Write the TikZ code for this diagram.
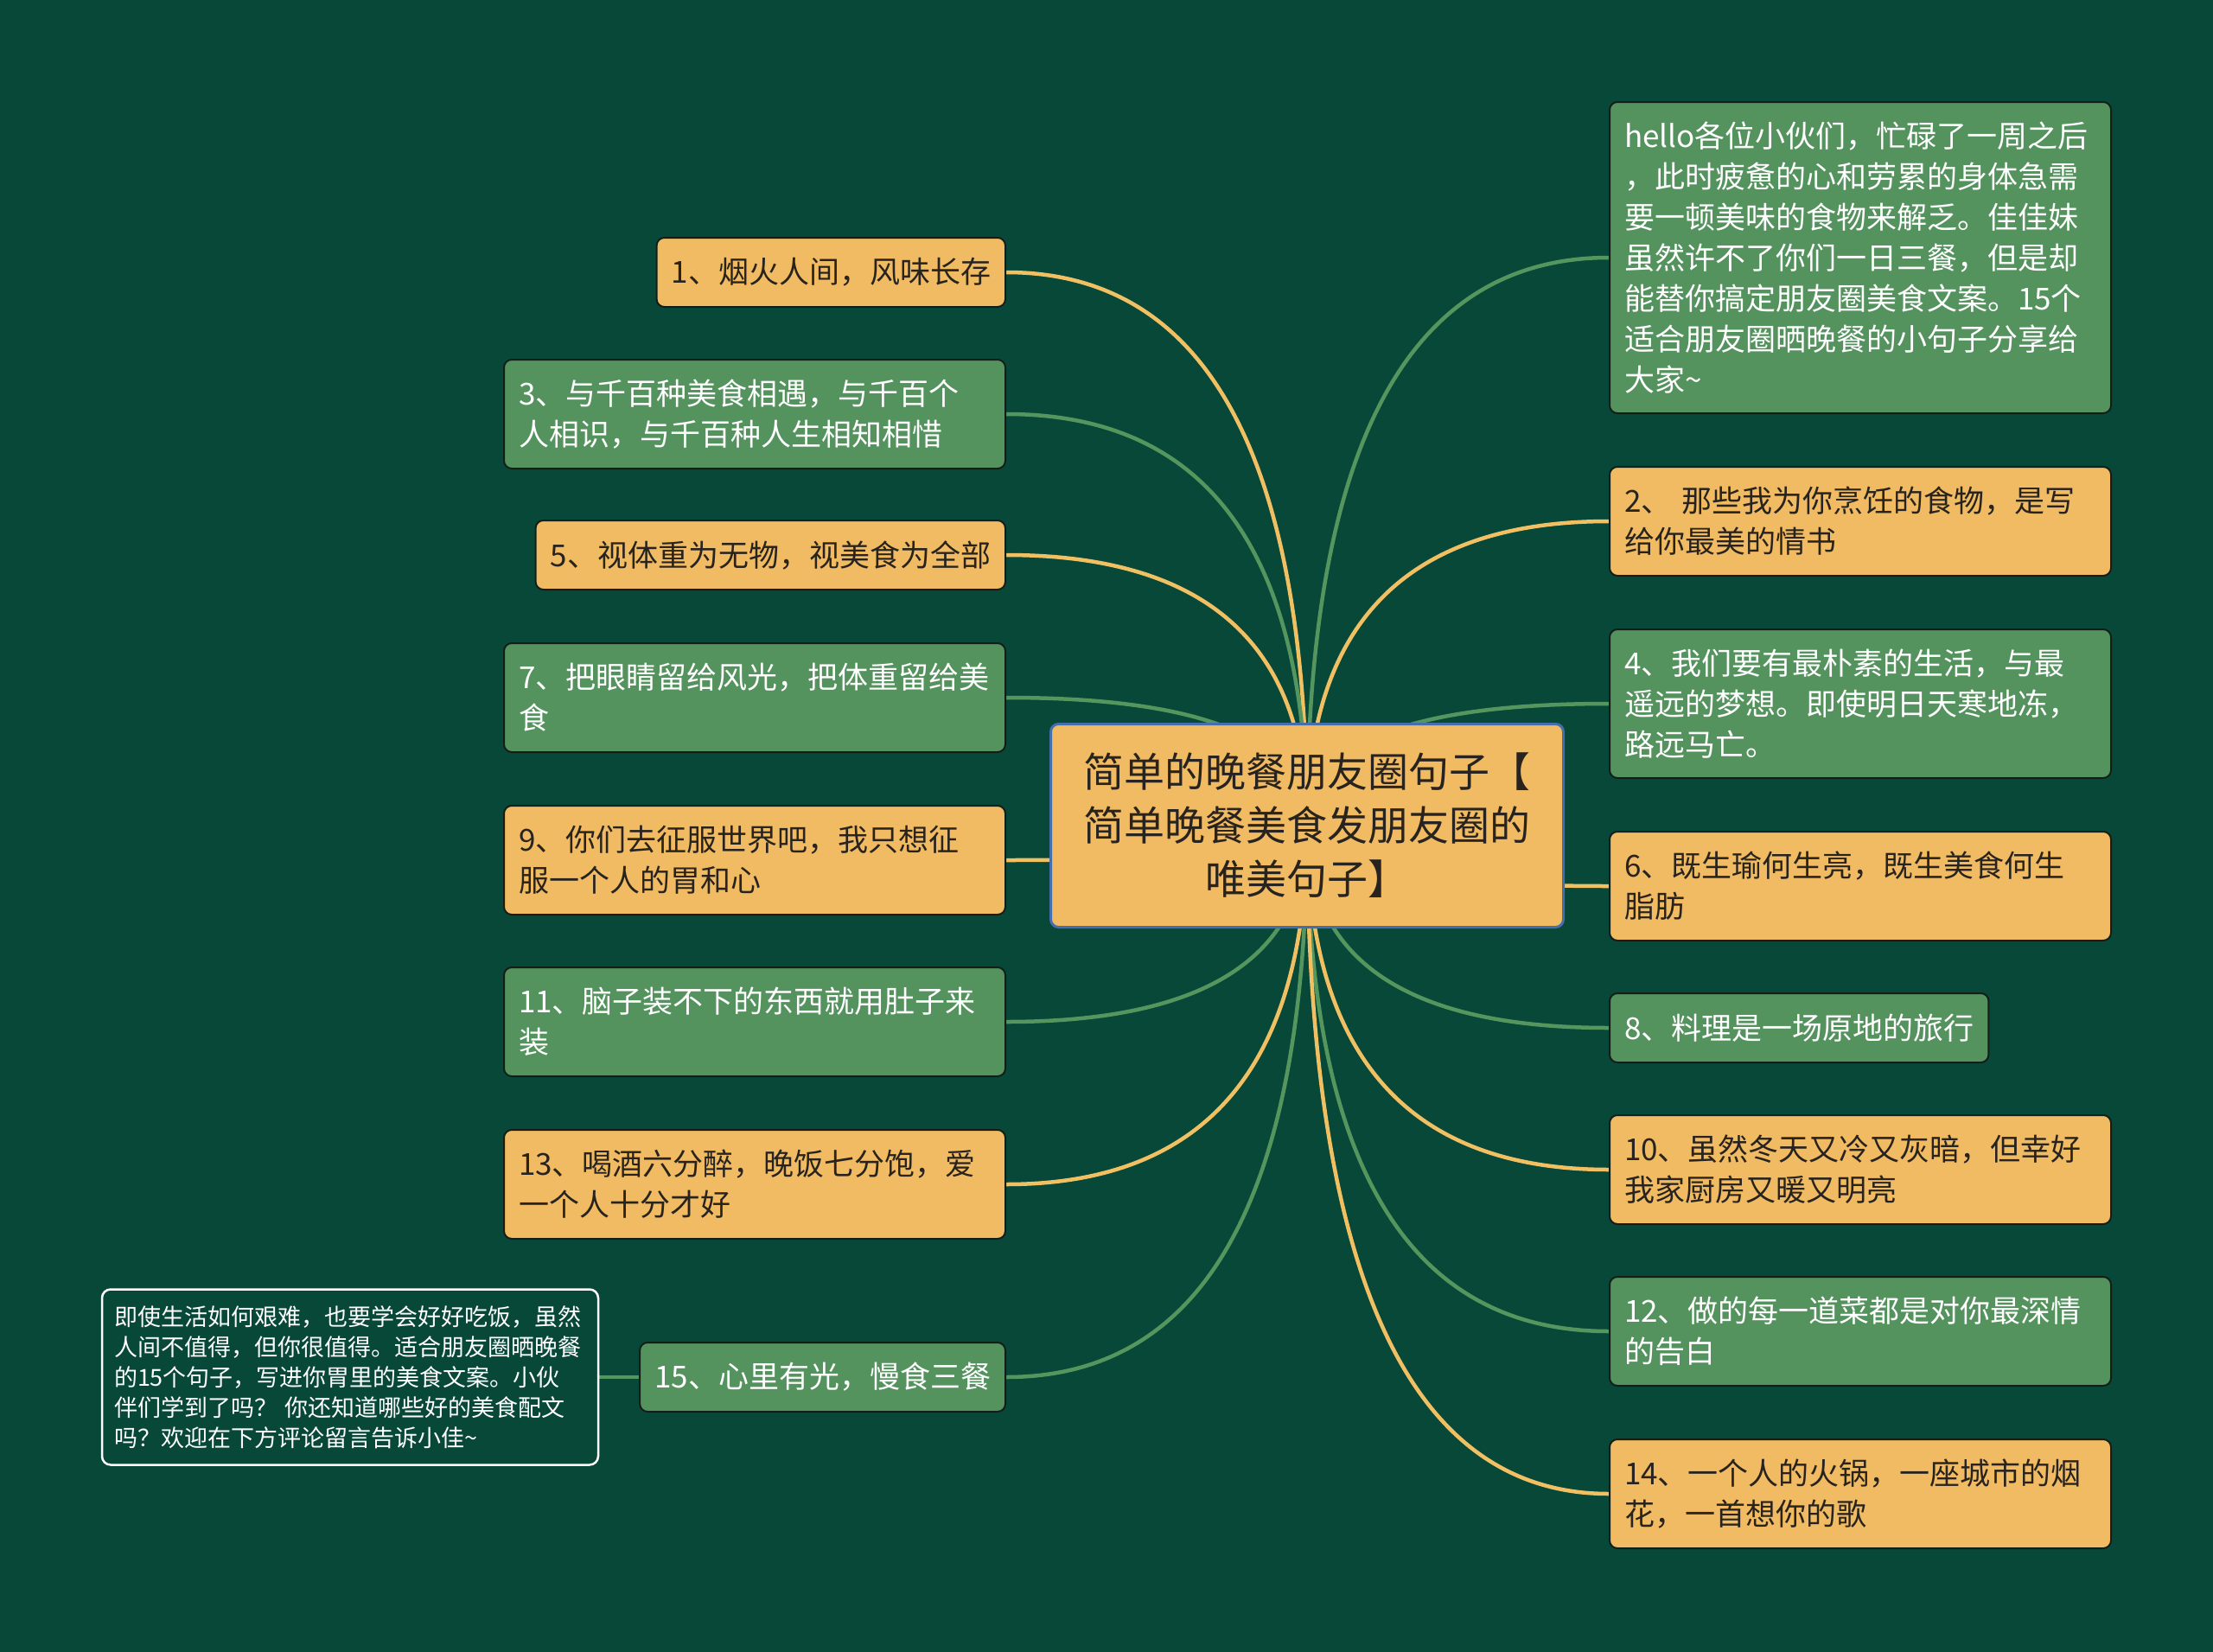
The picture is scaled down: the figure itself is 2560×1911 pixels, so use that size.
\documentclass[tikz,border=0pt]{standalone}
\usepackage{fontspec}
\newfontfamily\cjk{Noto Sans CJK SC}
\usetikzlibrary{calc}
\pgfdeclarelayer{bg}
\pgfsetlayers{bg,main}
\definecolor{bgc}{RGB}{8,72,57}
\definecolor{grf}{RGB}{84,146,94}
\definecolor{orf}{RGB}{240,187,98}
\definecolor{grl}{RGB}{84,150,94}
\definecolor{orl}{RGB}{240,192,98}
\definecolor{dtext}{RGB}{40,35,30}
\definecolor{nborder}{RGB}{20,30,25}
\definecolor{cblue}{RGB}{70,110,175}
\tikzset{
  basebox/.style={rounded corners=9pt, draw=nborder, line width=2pt,
    font=\cjk\fontsize{35pt}{47pt}\selectfont, align=left,
    inner xsep=17pt, inner ysep=0pt},
  obox/.style={basebox, fill=orf, text=dtext},
  gbox/.style={basebox, fill=grf, text=white},
  wide/.style={text width=546pt},
  conO/.style={draw=orl, line width=4.5pt},
  conG/.style={draw=grl, line width=4.5pt},
}
\newcommand\linkto[3]{%
  \draw[#3] (c.center) .. controls ($(c.center)!0.667!(c.center |- #1.#2)$) and ($(#1.#2)!0.667!(c.center |- #1.#2)$) .. (#1.#2);}
\begin{document}
\begin{tikzpicture}[x=1pt,y=-1pt]
\begin{pgfonlayer}{bg}
\fill[bgc] (0,0) rectangle (2560,1911);
\end{pgfonlayer}
\useasboundingbox (0,0) rectangle (2560,1911);

% center
\node[rounded corners=9pt, draw=cblue, line width=3pt, fill=orf, text=dtext,
  minimum width=593pt, minimum height=235pt, align=center,
  font=\cjk\fontsize{47pt}{62pt}\selectfont] (c) at (1512,955)
  {简单的晚餐朋友圈句子【\\简单晚餐美食发朋友圈的\\唯美句子】};

% left
\node[obox, anchor=east, minimum height=80pt] (n1) at (1164,315) {1、烟火人间，风味长存};
\node[gbox, wide, anchor=east, minimum height=126pt] (n3) at (1164,479) {3、与千百种美食相遇，与千百个\\人相识，与千百种人生相知相惜};
\node[obox, anchor=east, minimum height=80pt] (n5) at (1164,642) {5、视体重为无物，视美食为全部};
\node[gbox, wide, anchor=east, minimum height=126pt] (n7) at (1164,807) {7、把眼睛留给风光，把体重留给美\\食};
\node[obox, wide, anchor=east, minimum height=126pt] (n9) at (1164,995) {9、你们去征服世界吧，我只想征\\服一个人的胃和心};
\node[gbox, wide, anchor=east, minimum height=126pt] (n11) at (1164,1182) {11、脑子装不下的东西就用肚子来\\装};
\node[obox, wide, anchor=east, minimum height=126pt] (n13) at (1164,1370) {13、喝酒六分醉，晚饭七分饱，爱\\一个人十分才好};
\node[gbox, anchor=east, minimum height=80pt] (n15) at (1164,1593) {15、心里有光，慢食三餐};
\node[rounded corners=10pt, draw=white, line width=2.5pt, fill=bgc, text=white,
  text width=546pt, inner xsep=14pt, inner ysep=0pt, minimum height=203pt, align=left,
  font=\cjk\fontsize{27pt}{35pt}\selectfont] (note) at (405,1593)
  {即使生活如何艰难，也要学会好好吃饭，虽然\\人间不值得，但你很值得。适合朋友圈晒晚餐\\的15个句子，写进你胃里的美食文案。小伙\\伴们学到了吗？ 你还知道哪些好的美食配文\\吗？欢迎在下方评论留言告诉小佳\textasciitilde};

% right
\node[gbox, wide, anchor=west, minimum height=360pt] (h) at (1861,298)
  {hello各位小伙们，忙碌了一周之后\\，此时疲惫的心和劳累的身体急需\\要一顿美味的食物来解乏。佳佳妹\\虽然许不了你们一日三餐，但是却\\能替你搞定朋友圈美食文案。15个\\适合朋友圈晒晚餐的小句子分享给\\大家\textasciitilde};
\node[obox, wide, anchor=west, minimum height=126pt] (n2) at (1861,603) {2、 那些我为你烹饪的食物，是写\\给你最美的情书};
\node[gbox, wide, anchor=west, minimum height=172pt] (n4) at (1861,814) {4、我们要有最朴素的生活，与最\\遥远的梦想。即使明日天寒地冻，\\路远马亡。};
\node[obox, wide, anchor=west, minimum height=126pt] (n6) at (1861,1025) {6、既生瑜何生亮，既生美食何生\\脂肪};
\node[gbox, anchor=west, minimum height=80pt] (n8) at (1861,1189) {8、料理是一场原地的旅行};
\node[obox, wide, anchor=west, minimum height=126pt] (n10) at (1861,1353) {10、虽然冬天又冷又灰暗，但幸好\\我家厨房又暖又明亮};
\node[gbox, wide, anchor=west, minimum height=126pt] (n12) at (1861,1540) {12、做的每一道菜都是对你最深情\\的告白};
\node[obox, wide, anchor=west, minimum height=126pt] (n14) at (1861,1728) {14、一个人的火锅，一座城市的烟\\花，一首想你的歌};

\begin{pgfonlayer}{bg}
\linkto{n1}{east}{conO}
\linkto{n3}{east}{conG}
\linkto{n5}{east}{conO}
\linkto{n7}{east}{conG}
\linkto{n9}{east}{conO}
\linkto{n11}{east}{conG}
\linkto{n13}{east}{conO}
\linkto{n15}{east}{conG}
\linkto{h}{west}{conG}
\linkto{n2}{west}{conO}
\linkto{n4}{west}{conG}
\linkto{n6}{west}{conO}
\linkto{n8}{west}{conG}
\linkto{n10}{west}{conO}
\linkto{n12}{west}{conG}
\linkto{n14}{west}{conO}
\draw[conG] (note.east) -- (n15.west);
\end{pgfonlayer}
\end{tikzpicture}
\end{document}
